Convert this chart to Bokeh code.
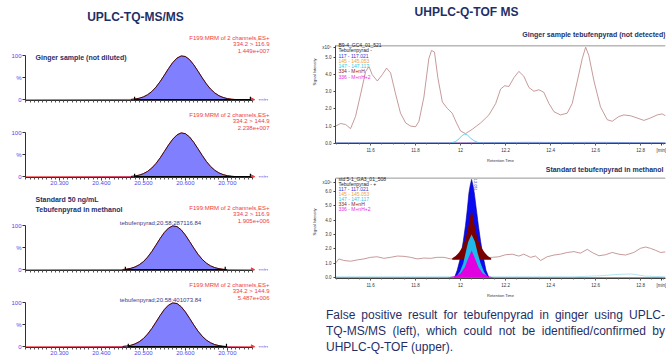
import math
import numpy as np
from bokeh.plotting import figure
from bokeh.models import (Range1d, FixedTicker, Label, Div, NumeralTickFormatter,
                          CustomJSTickFormatter, Span)
from bokeh.layouts import column, row
from bokeh.embed import file_html
from bokeh.resources import INLINE

FONT = "Liberation Sans"
NAVY = "#1F2F66"
RED = "#F03C3C"
TBLUE = "#4B4BEB"
FILL = "#8080FF"

# ---------------- UPLC-TQ-MS/MS data (relative intensity, %) ----------------
ginger_time = [20.22, 20.47, 20.48, 20.49, 20.50, 20.51, 20.52, 20.53, 20.54, 20.55,
               20.56, 20.57, 20.58, 20.59, 20.60, 20.61, 20.62, 20.63, 20.64, 20.65,
               20.66, 20.67, 20.68, 20.69, 20.70, 20.71, 20.72, 20.76]
ginger_116 = [0, 0.9, 1.8, 3.6, 6.7, 11.6, 18.9, 28.9, 41.6, 56.1, 71.2, 84.8, 94.8, 99.7,
              98.5, 91.4, 79.6, 65.2, 50.2, 36.2, 24.6, 15.7, 9.4, 5.3, 2.8, 1.4, 0.6, 0]
ginger_144 = [0, 0.8, 1.9, 3.9, 7.2, 12.4, 20.0, 30.3, 43.1, 57.6, 72.5, 85.7, 95.3, 99.8,
              98.1, 90.6, 78.4, 63.8, 48.9, 35.0, 23.6, 15.0, 8.9, 5.0, 2.6, 1.3, 0.5, 0]
std_time = [20.22, 20.45, 20.46, 20.47, 20.48, 20.49, 20.50, 20.51, 20.52, 20.53,
            20.54, 20.55, 20.56, 20.57, 20.58, 20.59, 20.60, 20.61, 20.62, 20.63,
            20.64, 20.65, 20.66, 20.67, 20.68, 20.69, 20.70, 20.76]
std_116 = [0, 0.7, 1.6, 3.4, 6.5, 11.4, 18.7, 28.8, 41.6, 56.3, 71.5, 85.1, 95.0, 99.8,
           98.3, 91.0, 79.0, 64.5, 49.5, 35.5, 24.0, 15.2, 9.0, 5.0, 2.6, 1.2, 0.5, 0]
std_144 = [0, 0.8, 1.7, 3.5, 6.6, 11.5, 18.8, 28.9, 41.6, 56.2, 71.3, 85.0, 94.9, 99.7,
           98.4, 91.2, 79.3, 64.8, 49.8, 35.8, 24.3, 15.4, 9.2, 5.1, 2.7, 1.3, 0.5, 0]
tq_channels = ["334.2 > 116.9", "334.2 > 144.9", "334.2 > 116.9", "334.2 > 144.9"]
tq_intensity = ["1.449e+007", "2.238e+007", "1.905e+006", "5.487e+006"]
tq_base_start = [20.479, 20.479, 20.457, 20.464]
tq_base_end = [20.755, 20.755, 20.695, 20.698]
tq_peak_labels = ["", "", "tebufenpyrad;20.58;287116.84", "tebufenpyrad;20.58;401073.84"]
tq_xticks = [20.3, 20.4, 20.5, 20.6, 20.7]
tq_yticks = [0, 50, 100]

# ---------------- UHPLC-Q-TOF data (signal intensity) ----------------
tof_ticks = [11.6, 11.8, 12.0, 12.2, 12.4, 12.6, 12.8]
# ginger sample, x10^4
g334_time = [11.444, 11.467, 11.489, 11.511, 11.533, 11.556, 11.578, 11.593, 11.607, 11.630,
             11.652, 11.671, 11.689, 11.711, 11.733, 11.756, 11.778, 11.800, 11.815, 11.837,
             11.859, 11.871, 11.884, 11.899, 11.919, 11.941, 11.963, 11.982, 12.000, 12.022,
             12.052, 12.089, 12.126, 12.156, 12.178, 12.196, 12.215, 12.237, 12.259, 12.281,
             12.304, 12.326, 12.348, 12.370, 12.393, 12.415, 12.444, 12.474, 12.496, 12.519,
             12.541, 12.556, 12.570, 12.593, 12.622, 12.652, 12.674, 12.704, 12.726, 12.756,
             12.785, 12.815, 12.844, 12.874, 12.896, 12.911]
g334_int = [1.00, 1.15, 1.09, 0.85, 1.56, 2.88, 4.19, 4.47, 4.00, 3.63,
            4.00, 4.38, 4.10, 2.88, 1.75, 1.18, 1.00, 0.96, 1.28, 2.69,
            4.94, 5.41, 5.32, 3.82, 2.41, 2.03, 1.75, 1.18, 0.71, 0.56,
            0.81, 1.18, 1.65, 2.31, 3.16, 3.35, 3.31, 3.82, 4.19, 3.91,
            3.25, 3.03, 3.12, 2.97, 2.31, 1.84, 1.65, 1.75, 2.31, 3.63,
            4.94, 5.60, 5.13, 3.63, 2.12, 1.37, 1.28, 1.56, 1.65, 1.60,
            1.47, 1.33, 1.47, 1.65, 1.71, 1.60]
g147_time = [11.444, 11.956, 11.978, 11.993, 12.007, 12.018, 12.030, 12.044, 12.059, 12.081, 12.096, 12.911]
g147_int = [0.0, 0.0, 0.10, 0.25, 0.45, 0.53, 0.48, 0.30, 0.15, 0.02, 0.0, 0.0]
g117_time = [11.444, 12.0, 12.30, 12.45, 12.60, 12.911]
g117_int = [0.02, 0.02, 0.05, 0.04, 0.05, 0.02]
# standard, x10^5
s334_time = [11.444, 11.459, 11.481, 11.511, 11.541, 11.570, 11.600, 11.630, 11.659, 11.689,
             11.719, 11.748, 11.778, 11.807, 11.837, 11.867, 11.896, 11.926, 11.956, 12.141,
             12.170, 12.200, 12.230, 12.259, 12.281, 12.311, 12.333, 12.356, 12.385, 12.415,
             12.444, 12.474, 12.504, 12.533, 12.563, 12.585, 12.615, 12.644, 12.674, 12.704,
             12.733, 12.770, 12.800, 12.822, 12.844, 12.867, 12.889, 12.911]
s334_int = [1.00, 1.30, 1.19, 1.14, 1.23, 1.30, 1.41, 1.45, 1.34, 1.41,
            1.50, 1.48, 1.41, 1.30, 1.36, 1.34, 1.41, 1.41, 1.30, 1.41,
            1.45, 1.59, 1.63, 1.50, 1.63, 1.41, 1.50, 1.19, 1.45, 1.57,
            1.63, 1.75, 1.81, 1.70, 1.97, 1.75, 1.52, 1.59, 1.75, 1.63,
            1.57, 1.75, 2.04, 2.13, 2.04, 1.90, 1.75, 1.79]
s117_peak_time = [11.973, 11.985, 12.000, 12.012, 12.022, 12.030, 12.037, 12.043, 12.049,
                  12.055, 12.061, 12.070, 12.079, 12.089, 12.101, 12.113, 12.126]
s117_peak_int = [0, 0.5, 1.41, 2.53, 3.65, 4.77, 5.9, 6.45, 6.85, 6.45, 5.9, 4.77, 3.65,
                 2.53, 1.41, 0.5, 0]
s334_peak_time = [11.963, 11.978, 11.993, 12.007, 12.018, 12.030, 12.040, 12.049, 12.058,
                  12.068, 12.080, 12.092, 12.107, 12.121, 12.136]
s334_peak_int = [1.35, 1.5, 1.75, 2.1, 2.53, 3.2, 4.0, 4.77, 4.0, 3.2, 2.53, 2.1, 1.75, 1.5, 1.35]
s147_peak_time = [11.978, 11.997, 12.012, 12.022, 12.034, 12.049, 12.064, 12.076, 12.089, 12.104, 12.121]
s147_peak_int = [0, 0.4, 1.0, 1.7, 2.5, 3.0, 2.5, 1.7, 1.0, 0.4, 0]
s336_peak_time = [11.941, 11.978, 12.000, 12.018, 12.033, 12.049, 12.065, 12.080, 12.098, 12.119, 12.148]
s336_peak_int = [0, 0.1, 0.3, 0.7, 1.3, 1.88, 1.3, 0.7, 0.3, 0.1, 0]
s147_time = [11.444, 11.95, 12.50, 12.62, 12.70, 12.76, 12.82, 12.911]
s147_int = [0.05, 0.05, 0.05, 0.12, 0.22, 0.25, 0.10, 0.05]

legend_ginger = ["B9-4_GC4_01_521", "Tebufenpyrad -", "117 - 117.021", "145 - 145.053",
                 "147 - 147.117", "334 - M+nH", "336 - M+nH+2"]
legend_std = ["std 5-1_GA3_01_508", "Tebufenpyrad - +", "117 - 117.021", "145 - 145.053",
              "147 - 147.117", "334 - M+nH", "336 - M+nH+2"]
legend_colors = ["#222222", "#222222", "#3535D0", "#F0A040", "#30C8E0", "#8B1A1A", "#E030E0"]

# ---------------- layout constants (pixels) ----------------
TQ_K = 0.44                      # px per %
TQ_XPX = 227 / 0.541             # px per minute
TQ_X0, TQ_X1 = 20.219, 20.760


def style_common(p):
    p.outline_line_color = None
    p.grid.visible = False
    p.background_fill_color = "white"
    p.border_fill_color = "white"


def tq_panel(i, x, y, height, bot_b, show_x):
    FW = 275
    FH = height - bot_b
    p = figure(width=300, height=height,
               x_range=Range1d(TQ_X0, TQ_X0 + FW / TQ_XPX),
               y_range=Range1d(-1.5, -1.5 + FH / TQ_K),
               output_backend="svg", toolbar_location=None,
               min_border_left=25, min_border_right=0,
               min_border_top=0, min_border_bottom=bot_b)
    style_common(p)
    minor = np.round(np.arange(20.22, 20.7601, 0.01), 3).tolist()
    p.xaxis.ticker = FixedTicker(ticks=tq_xticks if show_x else [], minor_ticks=minor)
    p.xaxis.formatter = NumeralTickFormatter(format="0.000")
    p.yaxis.ticker = FixedTicker(ticks=tq_yticks)
    p.yaxis.major_label_overrides = {50: "%"}
    p.xaxis.bounds = (TQ_X0, TQ_X1)
    p.yaxis.bounds = (-1.5, 100)
    for ax in (p.xaxis[0], p.yaxis[0]):
        ax.axis_line_color = "#303030"
        ax.major_tick_line_color = "#303030"
        ax.minor_tick_line_color = "#505050"
        ax.major_tick_out = 3
        ax.major_tick_in = 0
        ax.minor_tick_out = 2
        ax.minor_tick_in = 0
        ax.major_label_text_color = TBLUE
        ax.major_label_text_font = FONT
        ax.major_label_text_font_size = "6px"
        ax.major_label_standoff = 1
    p.xaxis.major_label_standoff = 0
    p.yaxis.minor_tick_line_color = None

    p.line(x, y, color=RED, line_width=1)
    p.varea(x=x, y1=0, y2=y, fill_color=FILL)
    p.line(x[1:-1], y[1:-1], color="#2A0000", line_width=0.9)
    b0, b1 = tq_base_start[i], tq_base_end[i]
    p.segment(x0=[b0], y0=[0], x1=[b1], y1=[0], line_color="black", line_width=1.5)
    p.scatter(x=[b0, b1], y=[0, 0], marker="dash", angle=math.pi / 2, size=6,
              line_color="black", line_width=1.2)
    p.scatter(x=[TQ_X1], y=[0], marker="triangle", angle=-math.pi / 2, size=4,
              fill_color=RED, line_color=RED)

    y100 = 101.5 * TQ_K
    p.add_layout(Label(x=TQ_X1, y=0, x_offset=6, text="min", text_color=TBLUE,
                       text_font=FONT, text_font_size="6px", text_baseline="middle"))
    for txt, dy in (("F199:MRM of 2 channels,ES+", 18), (tq_channels[i], 11.5), (tq_intensity[i], 5)):
        p.add_layout(Label(x=244, y=y100 + dy, x_units="screen", y_units="screen",
                           text=txt, text_color=RED, text_font=FONT, text_font_size="6px",
                           text_align="right", text_baseline="middle"))
    if tq_peak_labels[i]:
        p.add_layout(Label(x=135, y=y100 + 3, x_units="screen", y_units="screen",
                           text=tq_peak_labels[i], text_color="#3A3A8A", text_font=FONT,
                           text_font_size="6px", text_align="center", text_baseline="middle"))
    return p, y100


# first panel also carries the column title (frame reaches the top of the page)
p1, y100 = tq_panel(0, ginger_time, ginger_116, 107, 7, False)
p1.add_layout(Label(x=110, y=84, x_units="screen", y_units="screen", text="UPLC-TQ-MS/MS",
                    text_color=NAVY, text_font=FONT, text_font_style="bold",
                    text_font_size="12px", text_align="center", text_baseline="middle"))
p1.add_layout(Label(x=10, y=y100 - 2, x_units="screen", y_units="screen",
                    text="Ginger sample (not diluted)", text_color=NAVY, text_font=FONT,
                    text_font_style="bold", text_font_size="7px", text_baseline="middle"))
p2, _ = tq_panel(1, ginger_time, ginger_144, 82, 12, True)
p3, _ = tq_panel(2, std_time, std_116, 88, 7, False)
for txt, dy in (("Standard  50 ng/mL", 26), ("Tebufenpyrad in methanol", 16)):
    p3.add_layout(Label(x=10, y=y100 + dy, x_units="screen", y_units="screen",
                        text=txt, text_color=NAVY, text_font=FONT,
                        text_font_style="bold", text_font_size="7px", text_baseline="middle"))
p4, _ = tq_panel(3, std_time, std_144, 81, 11, True)


def tof_panel(height, bot_b, y0px, pxu, box_top, yticks, exp_at, exp_text, legend,
              title, title_dy, leg_first, leg_step):
    FW = 330
    FH = height - bot_b
    ymin = -y0px / pxu
    ymax = ymin + FH / pxu
    p = figure(width=366, height=height, x_range=Range1d(11.444, 12.911),
               y_range=Range1d(ymin, ymax), output_backend="svg", toolbar_location=None,
               min_border_left=35, min_border_right=1, min_border_top=0,
               min_border_bottom=bot_b)
    style_common(p)
    p.xaxis.ticker = FixedTicker(ticks=tof_ticks + [12.893],
                                 minor_ticks=np.round(np.arange(11.45, 12.91, 0.05), 2).tolist())
    p.xaxis.formatter = CustomJSTickFormatter(
        code="return Math.abs(tick - Math.round(tick)) < 1e-6 ? tick.toFixed(0) : tick.toFixed(1);")
    p.xaxis.major_label_overrides = {12.893: "[min]"}
    p.yaxis.ticker = FixedTicker(ticks=yticks + [exp_at])
    p.yaxis.formatter = NumeralTickFormatter(format="0.0")
    p.yaxis.major_label_overrides = {exp_at: exp_text}
    p.yaxis.bounds = (ymin, box_top)
    p.xaxis.axis_label = "Retention Time"
    p.yaxis.axis_label = "Signal Intensity"
    for ax in (p.xaxis[0], p.yaxis[0]):
        ax.axis_line_color = "#404040"
        ax.major_tick_line_color = "#404040"
        ax.minor_tick_line_color = "#707070"
        ax.major_tick_out = 2
        ax.major_tick_in = 0
        ax.minor_tick_out = 1
        ax.minor_tick_in = 0
        ax.major_label_text_color = "#333333"
        ax.major_label_text_font = FONT
        ax.major_label_text_font_size = "4.5px"
        ax.major_label_standoff = 2
        ax.axis_label_text_font = FONT
        ax.axis_label_text_font_size = "4px"
        ax.axis_label_text_font_style = "normal"
        ax.axis_label_text_color = "#333333"
        ax.axis_label_standoff = 2
    p.yaxis.minor_tick_line_color = None
    p.add_layout(Span(location=box_top, dimension="width", line_color="#7A7A7A", line_width=0.8))

    top_px = (box_top - ymin) * pxu
    p.add_layout(Label(x=FW, y=top_px + title_dy, x_units="screen",
                       y_units="screen", text=title,
                       text_color=NAVY, text_font=FONT, text_font_style="bold",
                       text_font_size="7px", text_align="right", text_baseline="middle"))
    for k, (txt, col) in enumerate(zip(legend, legend_colors)):
        p.add_layout(Label(x=3, y=top_px - leg_first - k * leg_step, x_units="screen",
                           y_units="screen", text=txt, text_color=col, text_font=FONT,
                           text_font_size="5px", text_baseline="middle"))
    return p, FH


# top chart: frame bottom at 148, zero level 0.3 px above, 17.74 px per unit, box top 5.68
t1, t1_fh = tof_panel(165, 17, 0.3, 17.74, 5.68, [0, 1, 2, 3, 4, 5], 5.56, "x10\u2074",
                      legend_ginger, "Ginger sample tebufenpyrad (not detected)", 8, 2.5, 5.3)
t1.add_layout(Label(x=131, y=t1_fh - 16, x_units="screen", y_units="screen",
                    text="UHPLC-Q-TOF MS", text_color=NAVY, text_font=FONT,
                    text_font_style="bold", text_font_size="12px", text_align="center",
                    text_baseline="middle"))
t1.line([11.444, 12.911], [0, 0], color="#E030E0", line_width=0.8)
t1.line([11.444, 12.911], [0.01, 0.01], color="#F0A040", line_width=0.6)
t1.line(g117_time, g117_int, color="#6070E0", line_width=0.7)
t1.line(g147_time, g147_int, color="#40C8E8", line_width=0.8)
t1.line(g334_time, g334_int, color="#B98080", line_width=0.8)

t2, _ = tof_panel(135, 18, 1.0, 14.83, 6.94, [0, 1, 2, 3, 4, 5, 6], 6.61, "x10\u2075",
                  legend_std, "Standard tebufenpyrad  in methanol", 5, 4.7, 5.0)
t2.line([11.444, 12.911], [0, 0], color="#E030E0", line_width=0.8)
t2.line(s147_time, s147_int, color="#8FD8E8", line_width=0.7)
t2.line(s334_time, s334_int, color="#B98080", line_width=0.8)
t2.varea(x=s117_peak_time, y1=0, y2=s117_peak_int, fill_color="#0A0AF0")
t2.line(s117_peak_time, s117_peak_int, color="#0000A0", line_width=0.6)
t2.varea(x=s334_peak_time, y1=1.25, y2=s334_peak_int, fill_color="#7A0000")
t2.varea(x=s147_peak_time, y1=0, y2=s147_peak_int, fill_color="#1EB8EC")
t2.varea(x=s336_peak_time, y1=0, y2=s336_peak_int, fill_color="#E000E0")
t2.add_layout(Label(x=12.049, y=6.9, x_offset=4, angle=-math.pi / 2, text="12.051",
                    text_color="#2030C0", text_font=FONT, text_font_size="4px",
                    text_align="left", text_baseline="middle"))

just = "text-align:justify;text-align-last:justify;width:339px;"
caption = Div(
    text=('<div style="width:339px;">'
          f'<div style="{just}">False positive result for tebufenpyrad in ginger using UPLC-</div>'
          f'<div style="{just}">TQ-MS/MS (left), which could not be identified/confirmed by</div>'
          '<div style="width:339px;text-align:left;">UHPLC-Q-TOF (upper).</div></div>'),
    width=366, height=58, margin=0,
    styles={"font-family": FONT, "font-size": "12px", "line-height": "16px",
            "color": NAVY, "padding": "7px 1px 0 26px", "box-sizing": "border-box"})

left = column(p1, p2, p3, p4)
right = column(t1, t2, caption)
layout = row(left, right)

open("out.html", "w").write(file_html(layout, INLINE))
